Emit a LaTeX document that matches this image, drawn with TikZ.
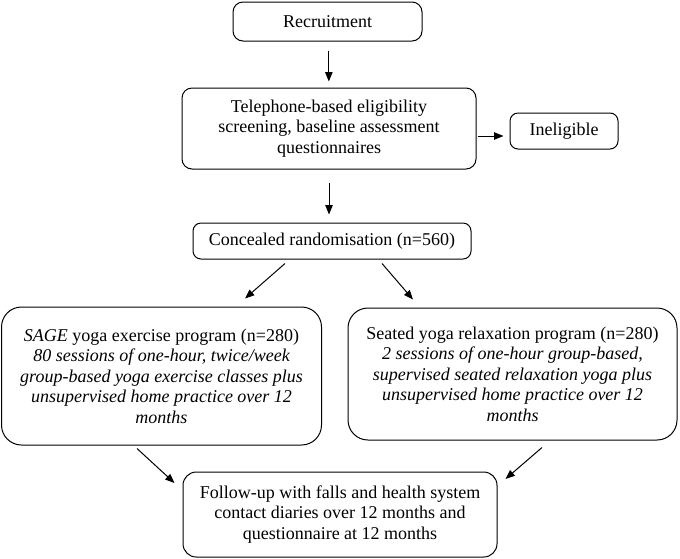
\documentclass[tikz,border=0pt]{standalone}
\usepackage{fontspec}
\setmainfont{Liberation Serif}
\usetikzlibrary{arrows.meta,calc}
\begin{document}
\begin{tikzpicture}[x=0.75pt,y=-0.75pt,
  box/.style={draw,line width=0.75pt,rounded corners=7.5pt,align=center,inner sep=0pt,
    font=\fontsize{13.5}{15.4}\selectfont},
  bigbox/.style={box,rounded corners=15pt},
  arr/.style={line width=0.75pt,-{Triangle[length=7pt,width=5.5pt]}}]
\useasboundingbox (0,0) rectangle (680,558);
\node[box,minimum width=141.75pt,minimum height=29.25pt] (rec) at (327.5,21.5) {Recruitment};
\node[box,minimum width=220.5pt,minimum height=60.75pt] (tel) at (329,128.5)
  {Telephone-based eligibility\\screening, baseline assessment\\questionnaires};
\node[box,rounded corners=6pt,minimum width=81pt,minimum height=27pt] (inel) at (564,131) {Ineligible};
\node[box,rounded corners=6pt,minimum width=208.5pt,minimum height=27pt] (conc) at (332,241) {Concealed randomisation (n=560)};
\node[bigbox,minimum width=240pt,minimum height=103.5pt] (sage) at (161.5,376)
  {\textit{SAGE} yoga exercise program (n=280)\\\itshape 80 sessions of one-hour, twice/week\\\itshape group-based yoga exercise classes plus\\\itshape unsupervised home practice over 12\\\itshape months};
\node[bigbox,minimum width=246.75pt,minimum height=99pt] (seat) at (512.5,374)
  {Seated yoga relaxation program (n=280)\\\itshape 2 sessions of one-hour group-based,\\\itshape supervised seated relaxation yoga plus\\\itshape unsupervised home practice over 12\\\itshape months};
\node[box,rounded corners=10pt,minimum width=235.5pt,minimum height=63.75pt] (fol) at (340,514.5)
  {Follow-up with falls and health system\\contact diaries over 12 months and\\questionnaire at 12 months};
\draw[arr,shorten <=6.75pt,shorten >=4.5pt] ([xshift=1pt]rec.south) -- ([xshift=1pt]rec.south |- tel.north);
\draw[arr] ($(tel.east)+(1,7.5)$) -- ($(inel.west)+(-6,5)$);
\draw[arr,shorten <=9.75pt,shorten >=6pt] (tel.south) -- (tel.south |- conc.north);
\draw[arr] ($(conc.south)+(-47,4)$) -- ($(sage.north)+(83.5,-8)$);
\draw[arr] ($(conc.south)+(50,4)$) -- ($(seat.north)+(-99.5,-8)$);
\draw[arr] ($(sage.south)+(-24.5,3)$) -- ($(fol.west)+(-8,-31.5)$);
\draw[arr] ($(seat.south)+(29.5,7)$) -- ($(fol.east)+(8,-35.5)$);
\end{tikzpicture}
\end{document}
